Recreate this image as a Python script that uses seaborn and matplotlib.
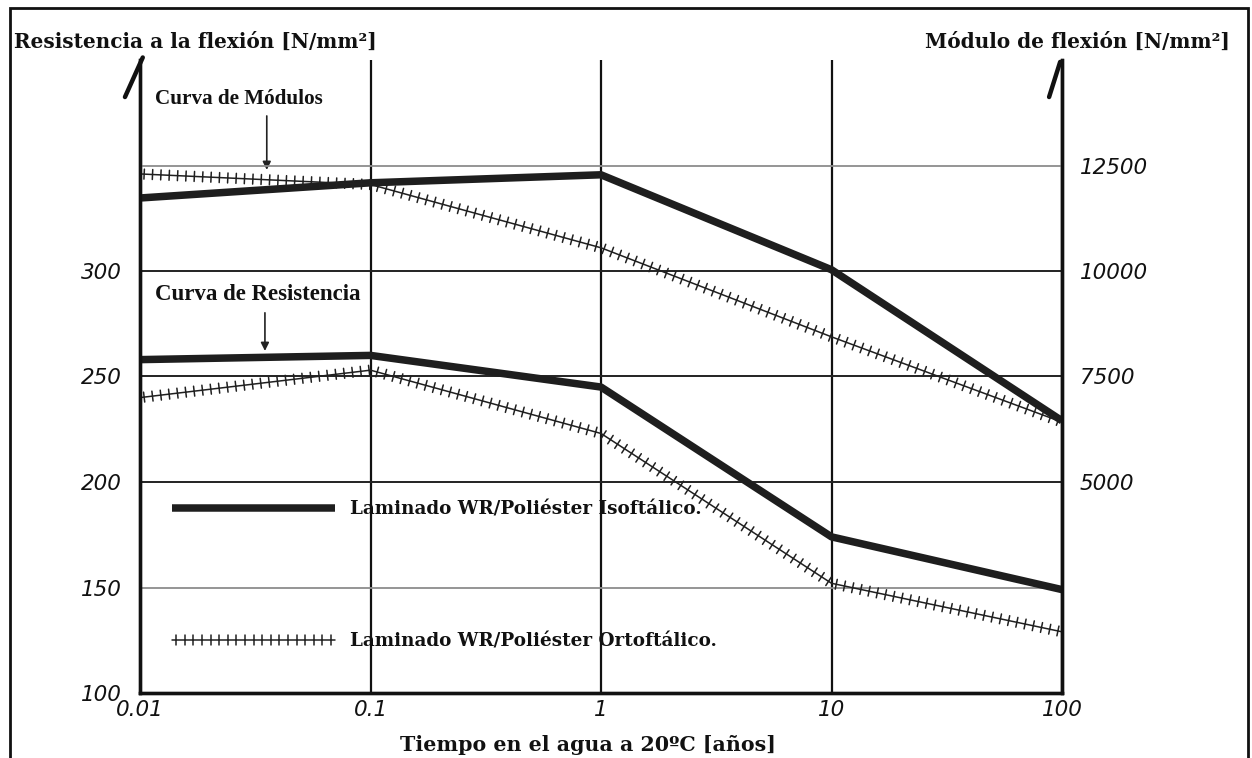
import matplotlib
matplotlib.use("Agg")
import matplotlib.pyplot as plt
import matplotlib.patheffects as pe
from matplotlib.patches import Rectangle
from matplotlib.ticker import FixedLocator, FixedFormatter, NullLocator
import seaborn as sns
import pandas as pd

# ---------------- data ----------------
tiempo = [0.01, 0.1, 1, 10, 100]                 # años
res_iso = [258, 260, 245, 174, 149]              # N/mm2 (eje izquierdo)
res_orto = [240, 253, 223, 152, 129]
mod_iso = [11730, 12090, 12280, 10030, 6450]     # N/mm2 (eje derecho)
mod_orto = [12300, 12050, 10550, 8440, 6420]

x_ticks = [0.01, 0.1, 1, 10, 100]
x_labels = ["0.01", "0.1", "1", "10", "100"]
yl_ticks = [100, 150, 200, 250, 300]
yr_ticks = [5000, 7500, 10000, 12500]

label_iso = "Laminado WR/Poliéster Isoftálico."
label_orto = "Laminado WR/Poliéster Ortoftálico."

# ---------------- style ----------------
sns.set_theme(style="white")
plt.rcParams["font.family"] = ["DejaVu Sans"]
SERIF = ["DejaVu Serif"]
SERIF2 = ["Liberation Serif", "DejaVu Serif"]

W, H = 1252, 758
fig = plt.figure(figsize=(W / 100, H / 100), dpi=100)
ax = fig.add_axes([140 / W, 1 - 693 / H, 922 / W, 633 / H])
ax2 = ax.twinx()

THICK = dict(color="#1e1e1e", linewidth=5.4, solid_capstyle="butt")
tick_fx = [pe.TickedStroke(angle=90, spacing=6.0, length=0.6),
           pe.TickedStroke(angle=-90, spacing=6.0, length=0.6),
           pe.Normal()]
THIN = dict(color="#202020", linewidth=1.1)

df_res = pd.DataFrame({"t": tiempo, "iso": res_iso, "orto": res_orto})
df_mod = pd.DataFrame({"t": tiempo, "iso": mod_iso, "orto": mod_orto})

sns.lineplot(data=df_res, x="t", y="iso", ax=ax, label=label_iso, **THICK)
l2 = sns.lineplot(data=df_res, x="t", y="orto", ax=ax, label=label_orto, **THIN).lines[-1]
l2.set_path_effects(tick_fx)

sns.lineplot(data=df_mod, x="t", y="iso", ax=ax2, legend=False, **THICK)
l4 = sns.lineplot(data=df_mod, x="t", y="orto", ax=ax2, legend=False, **THIN).lines[-1]
l4.set_path_effects(tick_fx)

# ---------------- axes ----------------
ax.set_xscale("log")
ax.set_xlim(0.01, 100)
ax.set_ylim(100, 400)
ax2.set_ylim(0, 15000)

ax.xaxis.set_major_locator(FixedLocator(x_ticks))
ax.xaxis.set_major_formatter(FixedFormatter(x_labels))
ax.xaxis.set_minor_locator(NullLocator())
ax.yaxis.set_major_locator(FixedLocator(yl_ticks))
ax2.yaxis.set_major_locator(FixedLocator(yr_ticks))

for lab in ax.get_xticklabels() + ax.get_yticklabels() + ax2.get_yticklabels():
    lab.set_fontstyle("italic")
    lab.set_fontsize(15.5)
    lab.set_color("#111111")
ax.tick_params(axis="x", length=0, pad=5)
ax.tick_params(axis="y", length=0, pad=13)
ax2.tick_params(axis="y", length=0, pad=13)

ax.set_xlabel("")
ax.set_ylabel("")
ax2.set_ylabel("")

# grid
ax.grid(True, axis="x", color="#111111", linewidth=1.6)
ax.grid(True, axis="y", color="#222222", linewidth=1.4)
for val, gl in zip(yl_ticks, ax.get_ygridlines()):
    if val == 150:
        gl.set_color("#8c8c8c")
        gl.set_linewidth(1.3)
ax2.grid(True, axis="y", color="#8c8c8c", linewidth=1.3)
for val, gl in zip(yr_ticks, ax2.get_ygridlines()):
    if val != 12500:
        gl.set_visible(False)
ax2.grid(False, axis="x")
ax.set_axisbelow(True)

for a in (ax, ax2):
    a.spines["top"].set_visible(False)
    for s in ("left", "right", "bottom"):
        a.spines[s].set_color("#111111")
        a.spines[s].set_linewidth(2.4)

# hooks at the top of both vertical axes
hook_kw = dict(transform=ax.transAxes, color="#111111", linewidth=3.2,
               clip_on=False, solid_capstyle="round")
ax.plot([0.003, -0.0163], [1.004, 0.9415], **hook_kw)
ax.plot([0.998, 0.986], [0.997, 0.9415], **hook_kw)

# ---------------- texts ----------------
title_kw = dict(family=SERIF, fontweight="bold", color="#111111")
fig.text(14 / W, 1 - 42 / H, "Resistencia a la flexión [N/mm²]",
         ha="left", va="center", fontsize=14.4, **title_kw)
fig.text(1230 / W, 1 - 42 / H, "Módulo de flexión [N/mm²]",
         ha="right", va="center", fontsize=14.4, **title_kw)
fig.text(588 / W, 1 - 745 / H, "Tiempo en el agua a 20ºC [años]",
         ha="center", va="center", fontsize=14.8, **title_kw)

ann_kw = dict(family=SERIF2, fontweight="bold", color="#111111")
arrow = dict(arrowstyle="-|>", color="#222222", lw=1.2, mutation_scale=12)
ax.text(0.0163, 0.938, "Curva de Módulos", transform=ax.transAxes,
        ha="left", va="center", fontsize=15.2, **ann_kw)
ax.annotate("", xy=(0.1375, 0.822), xytext=(0.1375, 0.916),
            xycoords="axes fraction", textcoords="axes fraction", arrowprops=arrow)
ax.text(0.0163, 0.629, "Curva de Resistencia", transform=ax.transAxes,
        ha="left", va="center", fontsize=16.5, **ann_kw)
ax.annotate("", xy=(0.1355, 0.536), xytext=(0.1355, 0.605),
            xycoords="axes fraction", textcoords="axes fraction", arrowprops=arrow)

leg = ax.legend(loc="center left", bbox_to_anchor=(0.0347, 0.186),
                frameon=False, borderpad=0, borderaxespad=0,
                handlelength=8.9, handletextpad=0.82, labelspacing=6.2,
                prop=dict(family=SERIF, weight="bold", size=13.2))
for t in leg.get_texts():
    t.set_color("#111111")

# outer frame of the figure
fig.patches.append(Rectangle((10 / W, -0.02), 1238 / W, 1.02 - 8 / H,
                             transform=fig.transFigure, fill=False,
                             edgecolor="#111111", linewidth=2))

fig.savefig("out.png", dpi=100)
